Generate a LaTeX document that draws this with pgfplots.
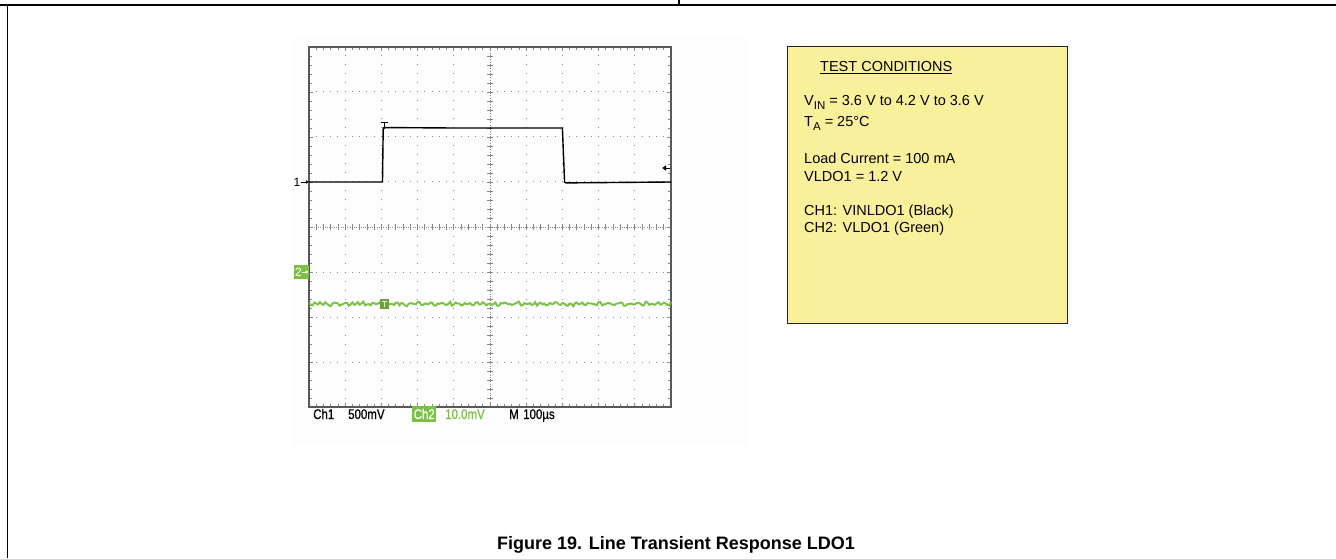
\documentclass[border=0pt]{standalone}
\usepackage{pgfplots}
\pgfplotsset{compat=1.18}
\usetikzlibrary{arrows.meta}
\usepackage{fontspec}
\setmainfont{Liberation Sans}
\newfontfamily\scopefont[FakeStretch=0.82,FakeBold=0.6]{Liberation Sans}
\definecolor{scgreen}{RGB}{122,193,66}
\definecolor{boxyellow}{RGB}{250,240,155}
\definecolor{gridgray}{RGB}{135,135,135}
\definecolor{scopebg}{RGB}{252,253,252}

\pgfplotstableread{
x y
0 1.0
2.03 1.0
2.05 2.2
2.08 2.21
4.0 2.2
7.0 2.2
7.06 1.0
7.1 0.98
10 1.0
}\chone

\pgfplotstableread{
x y
0.00 -1.69
0.05 -1.73
0.10 -1.74
0.15 -1.68
0.20 -1.70
0.25 -1.72
0.30 -1.67
0.35 -1.71
0.40 -1.73
0.45 -1.67
0.50 -1.71
0.55 -1.74
0.60 -1.76
0.65 -1.70
0.70 -1.68
0.75 -1.69
0.80 -1.70
0.85 -1.75
0.90 -1.72
0.95 -1.71
1.00 -1.69
1.05 -1.68
1.10 -1.75
1.15 -1.72
1.20 -1.68
1.25 -1.73
1.30 -1.71
1.35 -1.67
1.40 -1.73
1.45 -1.70
1.50 -1.66
1.55 -1.74
1.60 -1.72
1.65 -1.71
1.70 -1.74
1.75 -1.69
1.80 -1.69
1.85 -1.72
1.90 -1.70
1.95 -1.68
2.00 -1.73
2.05 -1.75
2.10 -1.67
2.15 -1.70
2.20 -1.72
2.25 -1.71
2.30 -1.71
2.35 -1.73
2.40 -1.68
2.45 -1.68
2.50 -1.74
2.55 -1.69
2.60 -1.70
2.65 -1.74
2.70 -1.76
2.75 -1.71
2.80 -1.69
2.85 -1.70
2.90 -1.71
2.95 -1.72
3.00 -1.67
3.05 -1.67
3.10 -1.73
3.15 -1.73
3.20 -1.70
3.25 -1.71
3.30 -1.72
3.35 -1.68
3.40 -1.68
3.45 -1.74
3.50 -1.75
3.55 -1.70
3.60 -1.71
3.65 -1.69
3.70 -1.69
3.75 -1.72
3.80 -1.73
3.85 -1.71
3.90 -1.66
3.95 -1.75
4.00 -1.72
4.05 -1.68
4.10 -1.70
4.15 -1.70
4.20 -1.74
4.25 -1.73
4.30 -1.69
4.35 -1.71
4.40 -1.71
4.45 -1.69
4.50 -1.73
4.55 -1.74
4.60 -1.68
4.65 -1.67
4.70 -1.72
4.75 -1.72
4.80 -1.67
4.85 -1.70
4.90 -1.74
4.95 -1.71
5.00 -1.70
5.05 -1.73
5.10 -1.71
5.15 -1.68
5.20 -1.75
5.25 -1.75
5.30 -1.69
5.35 -1.70
5.40 -1.68
5.45 -1.69
5.50 -1.72
5.55 -1.71
5.60 -1.73
5.65 -1.72
5.70 -1.70
5.75 -1.68
5.80 -1.66
5.85 -1.74
5.90 -1.74
5.95 -1.69
6.00 -1.71
6.05 -1.71
6.10 -1.69
6.15 -1.73
6.20 -1.72
6.25 -1.67
6.30 -1.75
6.35 -1.70
6.40 -1.68
6.45 -1.72
6.50 -1.70
6.55 -1.74
6.60 -1.73
6.65 -1.69
6.70 -1.71
6.75 -1.71
6.80 -1.67
6.85 -1.68
6.90 -1.72
6.95 -1.73
7.00 -1.69
7.05 -1.70
7.10 -1.74
7.15 -1.75
7.20 -1.70
7.25 -1.71
7.30 -1.76
7.35 -1.69
7.40 -1.68
7.45 -1.72
7.50 -1.71
7.55 -1.68
7.60 -1.73
7.65 -1.73
7.70 -1.69
7.75 -1.70
7.80 -1.70
7.85 -1.71
7.90 -1.72
7.95 -1.74
8.00 -1.67
8.05 -1.67
8.10 -1.74
8.15 -1.72
8.20 -1.71
8.25 -1.69
8.30 -1.69
8.35 -1.71
8.40 -1.73
8.45 -1.73
8.50 -1.70
8.55 -1.70
8.60 -1.68
8.65 -1.68
8.70 -1.75
8.75 -1.75
8.80 -1.71
8.85 -1.71
8.90 -1.70
8.95 -1.72
9.00 -1.72
9.05 -1.69
9.10 -1.69
9.15 -1.70
9.20 -1.74
9.25 -1.74
9.30 -1.66
9.35 -1.68
9.40 -1.73
9.45 -1.71
9.50 -1.71
9.55 -1.73
9.60 -1.70
9.65 -1.67
9.70 -1.72
9.75 -1.72
9.80 -1.68
9.85 -1.70
9.90 -1.73
9.95 -1.74
10.00 -1.67
}\chtwo

\begin{document}
\begin{tikzpicture}[x=1pt,y=1pt]
\path[use as bounding box] (0,0) rectangle (1336,558);
% page frame
\draw[line width=1.5pt] (0,553) -- (1336,553);
\draw[line width=1.2pt] (679,553) -- (679,558);
\draw[line width=1.5pt] (7.5,0) -- (7.5,553);
% scope background
\fill[scopebg] (292,112) rectangle (748,520);
% scope graticule
\foreach \i in {1,2,3,4,6,7,8,9}
  \draw[gridgray, line width=1pt, dash pattern=on 1pt off 8pt, dash phase=0.5pt] ({309+36.2*\i},151) -- ({309+36.2*\i},511);
\foreach \j in {1,2,3,5,6,7}
  \draw[gridgray, line width=1pt, dash pattern=on 1pt off 6.24pt, dash phase=0.5pt] (309,{151+45*\j}) -- (671,{151+45*\j});
\draw[gridgray, line width=1pt, dash pattern=on 1pt off 1.25pt] (490,151) -- (490,511);
\draw[gridgray, line width=1pt, dash pattern=on 1pt off 1.25pt] (309,331) -- (671,331);
\foreach \k in {1,...,39}
  \draw[gridgray, line width=0.8pt] (487,{151+9*\k}) -- (493,{151+9*\k});
\foreach \k in {1,...,49}
  \draw[gridgray, line width=0.8pt] ({309+7.24*\k},328) -- ({309+7.24*\k},334);

\begin{axis}[
  at={(309pt,151pt)}, anchor=south west,
  width=362pt, height=360pt, scale only axis,
  xmin=0, xmax=10, ymin=-4, ymax=4,
  xtick={0,...,10}, ytick={-4,...,4},
  minor x tick num=4, minor y tick num=4,
  xticklabels={}, yticklabels={},
  tick align=inside, tick pos=both,
  major tick length=4pt, minor tick length=3pt,
  every tick/.style={gridgray, line width=0.8pt},
  axis line style={black!65, line width=1.2pt},
  clip=false,
]
\addplot[scgreen, line width=1.9pt] table[x=x,y=y] {\chtwo};
\addplot[black, line width=1.4pt] table[x=x,y=y] {\chone};
\end{axis}

% channel markers
\node[anchor=east, inner sep=0pt, font=\fontsize{12}{12}\selectfont] at (300.5,376) {1};
\draw[line width=0.8pt, -{Latex[length=3pt,width=4pt]}] (301,376) -- (309,376);
\fill[scgreen] (294,279) rectangle (309,293);
\node[anchor=center, inner sep=0pt, text=white, font=\fontsize{12}{12}\selectfont] at (298.5,286) {2};
\draw[white, line width=0.8pt, -{Latex[length=3pt,width=4pt]}] (302,286) -- (308.5,286);
% trigger level pointer
\draw[line width=0.8pt, {Latex[length=4pt,width=6pt]}-] (662,390) -- (670,390);
% trigger position markers
\draw[black, line width=0.9pt] (381,436) -- (388,436);
\draw[black, line width=0.9pt] (384.5,436) -- (384.5,429);
\fill[scgreen!85!black] (380,249) rectangle (389,259);
\draw[white!80!scgreen, line width=0.8pt] (382,257) -- (387,257);
\draw[white!80!scgreen, line width=0.8pt] (384.5,257) -- (384.5,251);

% scope bottom readout
\begin{scope}[every node/.style={anchor=base west, inner sep=0pt, font=\scopefont\fontsize{14}{14}\selectfont}]
\node at (313,139) {Ch1};
\node at (348,139) {500mV};
\fill[scgreen] (412,136.5) rectangle (436,152);
\node[text=white] at (413.5,139) {Ch2};
\node[text=scgreen] at (445,139) {10.0mV};
\node at (509,139) {M};
\node at (523,139) {100µs};
\end{scope}

% test conditions box
\filldraw[fill=boxyellow, draw=black!85, line width=1pt] (787,235) rectangle (1067,511);
\begin{scope}[every node/.style={anchor=base west, inner sep=0pt, font=\fontsize{14.5}{14.5}\selectfont}]
\node at (820,486) {\underline{TEST CONDITIONS}};
\node at (804,452) {V\raisebox{-4pt}{\fontsize{11.5}{11.5}\selectfont IN} = 3.6 V to 4.2 V to 3.6 V};
\node at (804,431) {T\raisebox{-4pt}{\fontsize{11.5}{11.5}\selectfont A} = 25°C};
\node at (804,394) {Load Current = 100 mA};
\node at (804,376) {VLDO1 = 1.2 V};
\node at (804,343) {CH1: VINLDO1 (Black)};
\node at (804,326) {CH2: VLDO1 (Green)};
\end{scope}

% caption
\node[anchor=base west, inner sep=0pt, font=\bfseries\fontsize{18}{18}\selectfont] at (497,8.5) {Figure 19. Line Transient Response LDO1};
\end{tikzpicture}
\end{document}
